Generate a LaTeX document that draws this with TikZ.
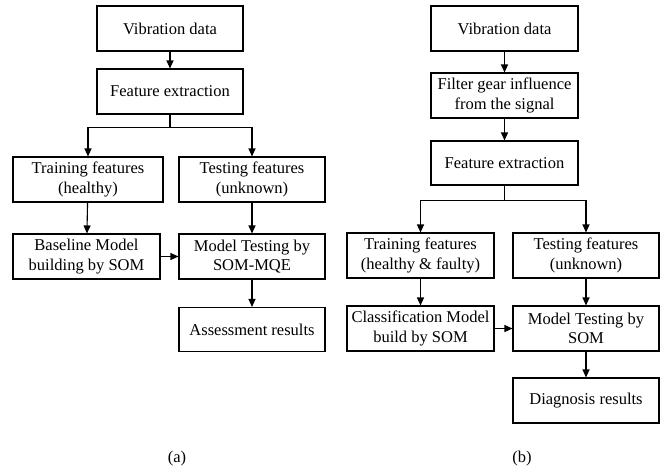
\documentclass[tikz,border=0pt]{standalone}
\usepackage{fontspec}
\setmainfont{Liberation Serif}
\usetikzlibrary{arrows.meta}
\begin{document}
\begin{tikzpicture}[x=1pt,y=-1pt,
  box/.style={draw,line width=1.1pt,rectangle,inner sep=0pt,align=center,
    minimum width=146pt,minimum height=45pt,
    font=\fontsize{16.5}{19.5}\selectfont},
  lbl/.style={font=\fontsize{16.5}{19.5}\selectfont},
  conn/.style={line width=1.1pt},
  arr/.style={conn,-{Triangle[length=8pt,width=7pt]}}]
\useasboundingbox (0,0) rectangle (662,472);
% (a)
\node[box] (va) at (170,28.5) {Vibration data};
\node[box] (fa) at (170,91.5) {Feature extraction};
\node[box,minimum width=150pt] (ta) at (88,179.5) {Training features\\(healthy)};
\node[box] (sa) at (252,179.5) {Testing features\\(unknown)};
\node[box,minimum width=147pt] (ba) at (86.5,256.5) {Baseline Model\\building by SOM};
\node[box] (ma) at (252,256.5) {Model Testing by\\SOM-MQE};
\node[box,minimum height=44pt] (ra) at (252,329.5) {Assessment results};
\node[lbl] (la) at (177,459) {(a)};
\draw[arr] (va) -- (fa);
\draw[conn] (fa.south) -- ++(0,13) coordinate (ja);
\draw[arr] (ja) -| (ta.north);
\draw[arr] (ja) -| (sa.north);
\draw[arr] (ta) -- (ba);
\draw[arr] (sa) -- (ma);
\draw[arr] (ba) -- (ma);
\draw[arr] (ma) -- (ra);
% (b)
\node[box,minimum width=147pt] (vb) at (504.5,28.5) {Vibration data};
\node[box,minimum width=147pt] (gb) at (504.5,95.5) {Filter gear influence\\from the signal};
\node[box,minimum width=147pt,minimum height=44pt] (fb) at (504.5,163) {Feature extraction};
\node[box,minimum width=147pt] (tb) at (420.5,255.5) {Training features\\(healthy \& faulty)};
\node[box] (sb) at (586,255.5) {Testing features\\(unknown)};
\node[box,minimum width=147pt] (cb) at (420.5,328.5) {Classification Model\\build by SOM};
\node[box] (mb) at (586,328.5) {Model Testing by\\SOM};
\node[box] (db) at (586,400.5) {Diagnosis results};
\node[lbl] (lb) at (522,459) {(b)};
\draw[arr] (vb) -- (gb);
\draw[arr] (gb) -- (fb);
\draw[conn] (fb.south) -- ++(0,15) coordinate (jb);
\draw[arr] (jb) -| (tb.north);
\draw[arr] (jb) -| (sb.north);
\draw[arr] (tb) -- (cb);
\draw[arr] (sb) -- (mb);
\draw[arr] (cb) -- (mb);
\draw[arr] (mb) -- (db);
\end{tikzpicture}
\end{document}
